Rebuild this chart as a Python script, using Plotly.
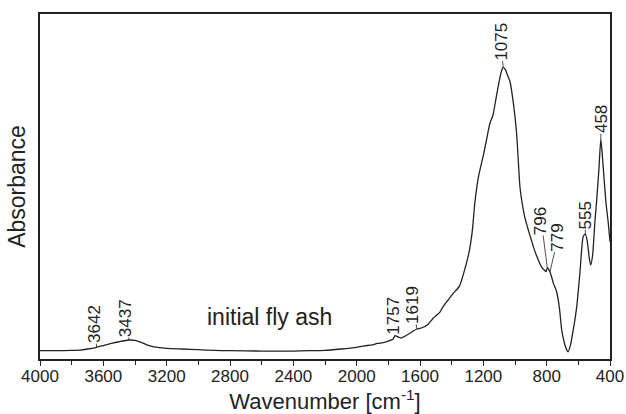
import plotly.graph_objects as go

# Spectrum (wavenumber cm-1, absorbance in arbitrary units)
wavenumber = [4000, 3900, 3800, 3750, 3700, 3642, 3600, 3550, 3500, 3437, 3400, 3360, 3320,
              3280, 3200, 3100, 3000, 2900, 2800, 2600, 2400, 2300, 2200, 2100, 2000, 1950,
              1900, 1870, 1850, 1800, 1770, 1757, 1740, 1720, 1700, 1670, 1640, 1619, 1600,
              1580, 1550, 1517, 1474, 1454, 1422, 1390, 1350, 1316, 1290, 1270, 1253, 1230,
              1200, 1180, 1158, 1140, 1120, 1100, 1085, 1075, 1060, 1045, 1032, 1010, 990,
              969, 958, 940, 916, 900, 880, 853, 830, 815, 804, 796, 790, 779, 770, 758, 737,
              720, 705, 690, 675, 664, 650, 630, 610, 590, 569, 556, 545, 530, 522, 510, 495,
              484, 470, 458, 445, 427, 410, 400]
absorbance = [0.024, 0.024, 0.025, 0.026, 0.029, 0.034, 0.039, 0.045, 0.050, 0.055, 0.054, 0.048, 0.040,
              0.035, 0.031, 0.029, 0.027, 0.025, 0.024, 0.023, 0.023, 0.024, 0.025, 0.029, 0.034, 0.038,
              0.041, 0.045, 0.046, 0.052, 0.058, 0.068, 0.064, 0.061, 0.065, 0.073, 0.082, 0.087, 0.089,
              0.092, 0.100, 0.118, 0.136, 0.152, 0.171, 0.190, 0.212, 0.262, 0.310, 0.370, 0.455, 0.530,
              0.590, 0.635, 0.684, 0.705, 0.755, 0.805, 0.835, 0.845, 0.838, 0.820, 0.805, 0.740, 0.655,
              0.500, 0.461, 0.415, 0.374, 0.350, 0.320, 0.287, 0.265, 0.258, 0.253, 0.264, 0.262, 0.253, 0.240, 0.220, 0.195,
              0.150, 0.084, 0.050, 0.028, 0.021, 0.040, 0.090, 0.152, 0.250, 0.355, 0.362, 0.345, 0.290, 0.272, 0.300, 0.400,
              0.461, 0.550, 0.637, 0.570, 0.461, 0.390, 0.340]

# Peak labels: wavenumber, absorbance at the leader end, label offsets (px)
peak_labels = ["3642", "3437", "1757", "1619", "1075", "796", "779", "555", "458"]
peak_x = [3642, 3437, 1757, 1619, 1075, 796, 779, 556, 458]
peak_y = [0.034, 0.055, 0.068, 0.087, 0.845, 0.264, 0.253, 0.362, 0.637]
label_ax = [-2, -4, -2, -4, -2, -6, 8, 0, 0]
label_ay = [-23, -22, -20, -24, -26, -47, -34, -19, -20]

sample_label = "initial fly ash"
sample_x = 2549
sample_y = 0.122

FONT = "Liberation Sans, Arial, sans-serif"
INK = "#222222"

fig = go.Figure()
fig.add_trace(go.Scatter(
    x=wavenumber, y=absorbance, mode="lines",
    line=dict(color=INK, width=1.3, shape="spline", smoothing=0.6),
    showlegend=False, hoverinfo="skip"))

for lab, px, py, ax, ay in zip(peak_labels, peak_x, peak_y, label_ax, label_ay):
    fig.add_annotation(x=px, y=py, text=lab, textangle=-90, showarrow=True,
                       arrowhead=0, arrowwidth=0.8, arrowcolor=INK,
                       ax=ax, ay=ay, standoff=0, borderpad=0,
                       font=dict(family=FONT, size=17, color=INK))

fig.add_annotation(x=sample_x, y=sample_y, text=sample_label, showarrow=False,
                   font=dict(family=FONT, size=23, color=INK))

fig.update_layout(
    width=626, height=414,
    margin=dict(l=40, r=16, t=14, b=55),
    paper_bgcolor="white", plot_bgcolor="white",
    font=dict(family=FONT, color=INK),
    xaxis=dict(range=[4000, 400], tickmode="array",
               tickvals=[4000, 3600, 3200, 2800, 2400, 2000, 1600, 1200, 800, 400],
               ticktext=["4000", "3600", "3200", "2800", "2400", "2000", "1600", "1200", "800", "400"],
               ticks="outside", ticklen=5, tickwidth=1, tickcolor=INK,
               ticklabelstandoff=-4,
               minor=dict(ticks="outside", ticklen=4, tickwidth=1, tickcolor=INK, dtick=200, tick0=0,
                          showgrid=False),
               showline=True, linecolor=INK, linewidth=1.5, mirror=True,
               showgrid=False, zeroline=False,
               tickfont=dict(size=17, color=INK),
               title=dict(text="Wavenumber [cm<sup>-1</sup>]", font=dict(size=22, color=INK), standoff=11),
               automargin=False),
    yaxis=dict(range=[0, 1], showticklabels=False, ticks="",
               showline=True, linecolor=INK, linewidth=1.5, mirror=True,
               showgrid=False, zeroline=False,
               title=dict(text="Absorbance", font=dict(size=23, color=INK), standoff=6),
               automargin=False),
)

fig.write_html("out.html")
